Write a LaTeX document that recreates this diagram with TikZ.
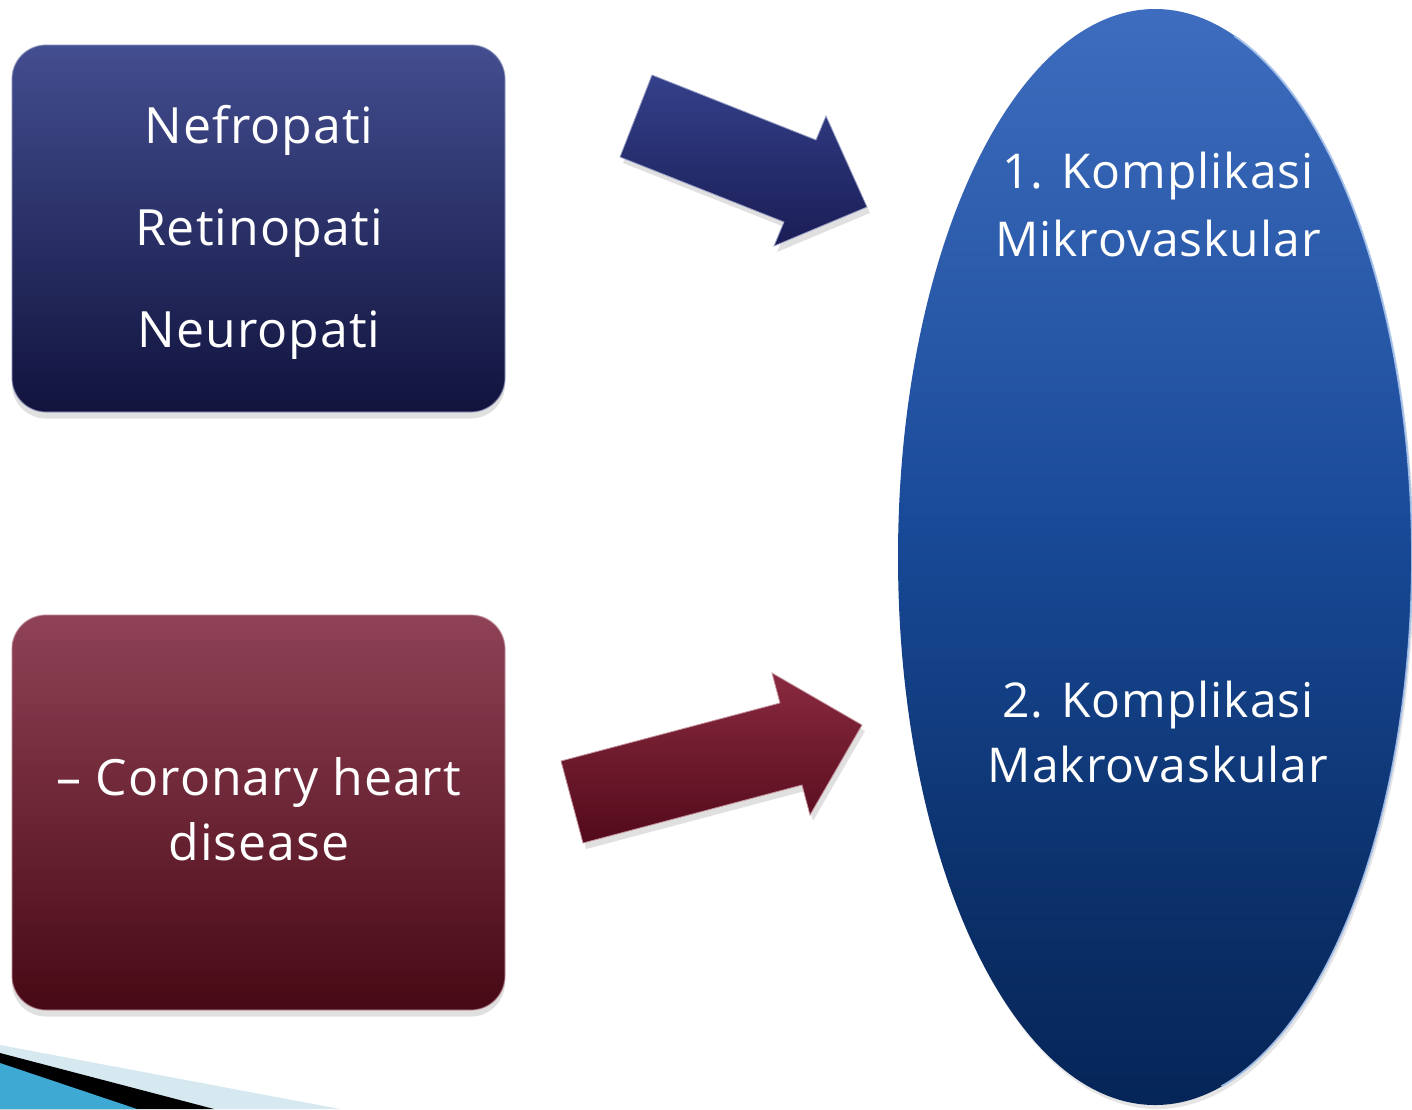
\documentclass[tikz,border=0pt]{standalone}
\usepackage{fontspec}
\setmainfont{Open Sans}[LetterSpace=2]
\usetikzlibrary{shapes.geometric}
\definecolor{bboxtop}{HTML}{434E90}
\definecolor{bboxbot}{HTML}{11133D}
\definecolor{rboxtop}{HTML}{904256}
\definecolor{rboxbot}{HTML}{470915}
\definecolor{barrtop}{HTML}{34408A}
\definecolor{barrbot}{HTML}{1A1D55}
\definecolor{rarrtop}{HTML}{8A2A40}
\definecolor{rarrbot}{HTML}{520A1A}
\definecolor{decolight}{HTML}{D6E9F1}
\definecolor{decoteal}{HTML}{3EA9D2}
\definecolor{ellrim}{HTML}{A9C4EC}
\pgfdeclareverticalshading{ellshade}{100bp}{%
  color(0bp)=(rgb,255:red,5;green,37;blue,88);
  color(25bp)=(rgb,255:red,5;green,37;blue,88);
  color(33bp)=(rgb,255:red,10;green,46;blue,102);
  color(51bp)=(rgb,255:red,24;green,73;blue,150);
  color(60bp)=(rgb,255:red,39;green,87;blue,167);
  color(75bp)=(rgb,255:red,62;green,108;blue,190);
  color(100bp)=(rgb,255:red,62;green,108;blue,190)}
\begin{document}
\begin{tikzpicture}[x=1pt,y=-1pt,
  boxbase/.style={rectangle, rounded corners=34pt, minimum width=493pt, minimum height=367pt, inner sep=0pt},
  bluebox/.style={boxbase, top color=bboxtop, bottom color=bboxbot, draw=bboxtop!60!white, draw opacity=0.6, line width=1.2pt},
  redbox/.style={boxbase, minimum height=395pt, top color=rboxtop, bottom color=rboxbot, draw=rboxtop!60!white, draw opacity=0.6, line width=1.2pt},
  shadowbox/.style={rectangle, rounded corners=34pt, fill=black, fill opacity=0.12, inner sep=0pt},
  txt/.style={text=white, font=\fontsize{50}{60}\selectfont, anchor=base, inner sep=0pt},
  etxt/.style={txt, font=\fontsize{48}{58}\selectfont},
  ellshape/.style={ellipse, minimum width=514pt, minimum height=1096pt, inner sep=0pt, shading=ellshade},
  rim/.style={draw=ellrim, line width=2pt, opacity=0.9},
]
\useasboundingbox (0,0) rectangle (1412,1109);
\fill[white] (0,0) rectangle (1412,1109);

% shadows
\node[shadowbox, minimum width=493pt, minimum height=367pt] (sh1) at (258.5,235) {};
\node[shadowbox, minimum width=493pt, minimum height=395pt] (sh2) at (258.5,819) {};
\node[ellipse, minimum width=514pt, minimum height=1096pt, fill=black, fill opacity=0.10, inner sep=0pt] (shE) at (1157,561) {};

% boxes
\node[bluebox] (box1) at (258.5,228.5) {};
\node[redbox] (box2) at (258.5,812.5) {};

% ellipse
\node[ellshape] (ell) at (1155,557) {};
\draw[rim] (ell.center) ++(-72:257 and 548) arc[start angle=-72, end angle=75, x radius=257, y radius=548];

% texts in blue box
\node[txt] (n1) at (259,143) {Nefropati};
\node[txt] (n2) at (259,245) {Retinopati};
\node[txt] (n3) at (259,347) {Neuropati};

% text in red box
\node[txt] (c1) at (259,795) {– Coronary heart};
\node[txt] (c2) at (259,860) {disease};

% ellipse texts
\node[etxt] (k1) at (1158,188) {1. Komplikasi};
\node[etxt] (k2) at (1158,256) {Mikrovaskular};
\node[etxt] (k3) at (1158,717) {2. Komplikasi};
\node[etxt] (k4) at (1158,782) {Makrovaskular};

% blue block arrow
\coordinate (ba1) at (652,75);
\coordinate (ba2) at (816,140);
\coordinate (ba3) at (826,116);
\coordinate (ba4) at (867,207);
\coordinate (ba5) at (774,246);
\coordinate (ba6) at (784,222);
\coordinate (ba7) at (620,157);
\fill[black, opacity=0.12] ([shift={(3,6)}]ba1) -- ([shift={(3,6)}]ba2) -- ([shift={(3,6)}]ba3) -- ([shift={(3,6)}]ba4) -- ([shift={(3,6)}]ba5) -- ([shift={(3,6)}]ba6) -- ([shift={(3,6)}]ba7) -- cycle;
\shade[top color=barrtop, bottom color=barrbot, draw=barrtop!50!white, line width=0.8pt]
  (ba1) -- (ba2) -- (ba3) -- (ba4) -- (ba5) -- (ba6) -- (ba7) -- cycle;

% red block arrow
\coordinate (ra1) at (561,761);
\coordinate (ra2) at (780,703);
\coordinate (ra3) at (772,673);
\coordinate (ra4) at (862,725);
\coordinate (ra5) at (810,815);
\coordinate (ra6) at (802,785);
\coordinate (ra7) at (583,843);
\fill[black, opacity=0.12] ([shift={(3,6)}]ra1) -- ([shift={(3,6)}]ra2) -- ([shift={(3,6)}]ra3) -- ([shift={(3,6)}]ra4) -- ([shift={(3,6)}]ra5) -- ([shift={(3,6)}]ra6) -- ([shift={(3,6)}]ra7) -- cycle;
\shade[top color=rarrtop, bottom color=rarrbot, draw=rarrtop!50!white, line width=0.8pt]
  (ra1) -- (ra2) -- (ra3) -- (ra4) -- (ra5) -- (ra6) -- (ra7) -- cycle;

% corner decoration
\fill[decolight] (0,1045) -- (340,1109) -- (0,1109) -- cycle;
\fill[black] (0,1053) -- (214,1109) -- (0,1109) -- cycle;
\fill[decoteal] (0,1063) -- (137,1109) -- (0,1109) -- cycle;
\end{tikzpicture}
\end{document}
